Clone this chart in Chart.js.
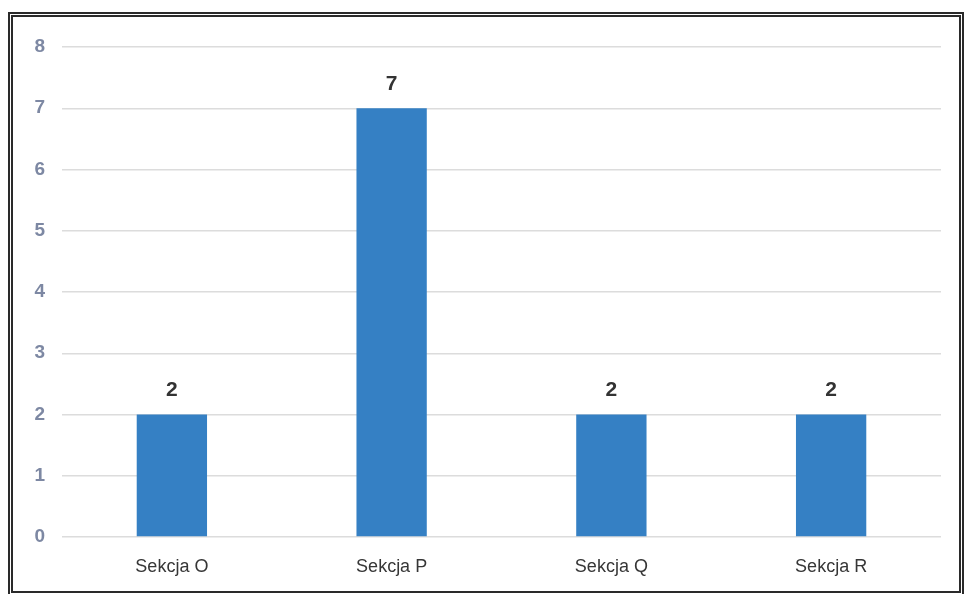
<!DOCTYPE html>
<html>
<head>
<meta charset="utf-8">
<script src="https://cdn.jsdelivr.net/npm/chart.js@4"></script>
<style>
  body { margin: 0; background: #fff; }
  #box {
    position: absolute; left: 8px; top: 12px;
    width: 946px; height: 574px;
    border: 5px double #2a2a2a;
  }
  #box canvas { display: block; }
</style>
</head>
<body>
<div id="box"><canvas id="barChart" width="946" height="574"></canvas></div>
<script>
  // data
  const categories = ["Sekcja O", "Sekcja P", "Sekcja Q", "Sekcja R"];
  const counts = [2, 7, 2, 2];
  const yTicks = [0, 1, 2, 3, 4, 5, 6, 7, 8];

  // value labels on top of the bars
  const valueLabels = {
    id: "valueLabels",
    afterDatasetsDraw(chart) {
      const c = chart.ctx;
      c.save();
      c.font = "bold 21px 'Liberation Sans', Arial, sans-serif";
      c.fillStyle = "#333333";
      c.textAlign = "center";
      c.textBaseline = "bottom";
      chart.getDatasetMeta(0).data.forEach(function(bar, i) {
        c.fillText(String(counts[i]), bar.x, bar.y - 14);
      });
      c.restore();
    }
  };

  const ctx = document.getElementById("barChart").getContext("2d");
  new Chart(ctx, {
    type: "bar",
    data: {
      labels: categories,
      datasets: [{
        data: counts,
        backgroundColor: "#3580c4",
        categoryPercentage: 1,
        barPercentage: 0.32
      }]
    },
    options: {
      responsive: false,
      animation: false,
      layout: { padding: { top: 30, right: 18, left: 0, bottom: 0 } },
      plugins: { legend: { display: false }, tooltip: { enabled: false } },
      scales: {
        y: {
          min: 0, max: 8,
          afterBuildTicks: function(s) { s.ticks = yTicks.map(v => ({ value: v })); },
          afterFit: function(s) { s.width = 49; },
          border: { display: false },
          grid: { color: "#dcdcdc", lineWidth: 1.5, drawTicks: false },
          ticks: {
            padding: 17,
            color: "#7d88a3",
            font: { family: "'Liberation Sans', Arial, sans-serif", size: 19, weight: "bold" }
          }
        },
        x: {
          afterFit: function(s) { s.height = 54; },
          border: { display: false },
          grid: { display: false },
          ticks: {
            padding: 11,
            color: "#363636",
            font: { family: "'Liberation Sans', Arial, sans-serif", size: 18 }
          }
        }
      }
    },
    plugins: [valueLabels]
  });
</script>
</body>
</html>
